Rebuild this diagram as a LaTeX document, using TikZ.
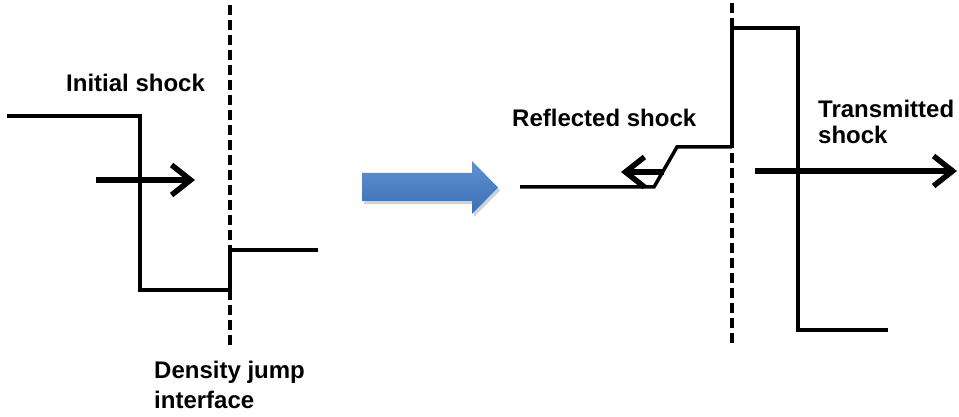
\documentclass[tikz,border=0pt]{standalone}
\usepackage{fontspec}
\setmainfont{Liberation Sans}
\usetikzlibrary{arrows.meta}
\definecolor{bluetop}{RGB}{96,146,210}
\definecolor{bluebot}{RGB}{58,110,178}
\tikzset{
  profile/.style={line width=3.5pt, line join=miter},
  interface/.style={line width=3.5pt, dash pattern=on 10pt off 5pt},
  shockarrow/.style={line width=5.5pt, -{Straight Barb[length=19pt,width=30pt,line width=5.5pt]}},
  lbl/.style={font=\bfseries\fontsize{24}{30}\selectfont, anchor=base west, inner sep=0pt}
}
\begin{document}
\begin{tikzpicture}[x=1pt,y=-1pt]
\useasboundingbox (0,0) rectangle (959,417);
% left panel
\draw[interface] (230,5) -- (230,346);
\coordinate (a1) at (7,116);
\coordinate (a2) at (140,116);
\coordinate (a3) at (140,290);
\coordinate (a4) at (230,290);
\coordinate (a5) at (230,250);
\coordinate (a6) at (318,250);
\draw[profile] (a1) -- (a2) -- (a3) -- (a4) -- (a5) -- (a6);
\coordinate (ia) at (96,180);
\coordinate (ib) at (195,180);
\draw[shockarrow] (ia) -- (ib);
\node[lbl] (init) at (66,92) {Initial shock};
\node[lbl] (dens1) at (154,378) {Density jump};
\node[lbl] (dens2) at (154,408) {interface};
% big blue arrow
\fill[black,opacity=0.18] (364,176) -- (474,176) -- (474,164) -- (500,190.5) -- (474,217) -- (474,204) -- (364,204) -- cycle;
\shade[top color=bluetop,bottom color=bluebot] (362,173) -- (472,173) -- (472,161) -- (498,187.5) -- (472,214) -- (472,201) -- (362,201) -- cycle;
% right panel
\draw[interface] (732,3) -- (732,347);
\coordinate (b1) at (520,187);
\coordinate (b2) at (654,187);
\coordinate (b3) at (677,147);
\coordinate (b4) at (732,147);
\coordinate (b5) at (732,28);
\coordinate (b6) at (798,28);
\coordinate (b7) at (798,330);
\coordinate (b8) at (888,330);
\draw[profile] (b1) -- (b2) -- (b3) -- (b4);
\draw[profile] (b4) -- (b5) -- (b6) -- (b7) -- (b8);
\coordinate (ra) at (664,172);
\coordinate (rb) at (621,172);
\draw[shockarrow] (ra) -- (rb);
\coordinate (ta) at (755,171);
\coordinate (tb) at (957,171);
\draw[shockarrow] (ta) -- (tb);
\node[lbl] (refl) at (512,127) {Reflected shock};
\node[lbl] (trans1) at (818,118) {Transmitted};
\node[lbl] (trans2) at (818,144) {shock};
\end{tikzpicture}
\end{document}
